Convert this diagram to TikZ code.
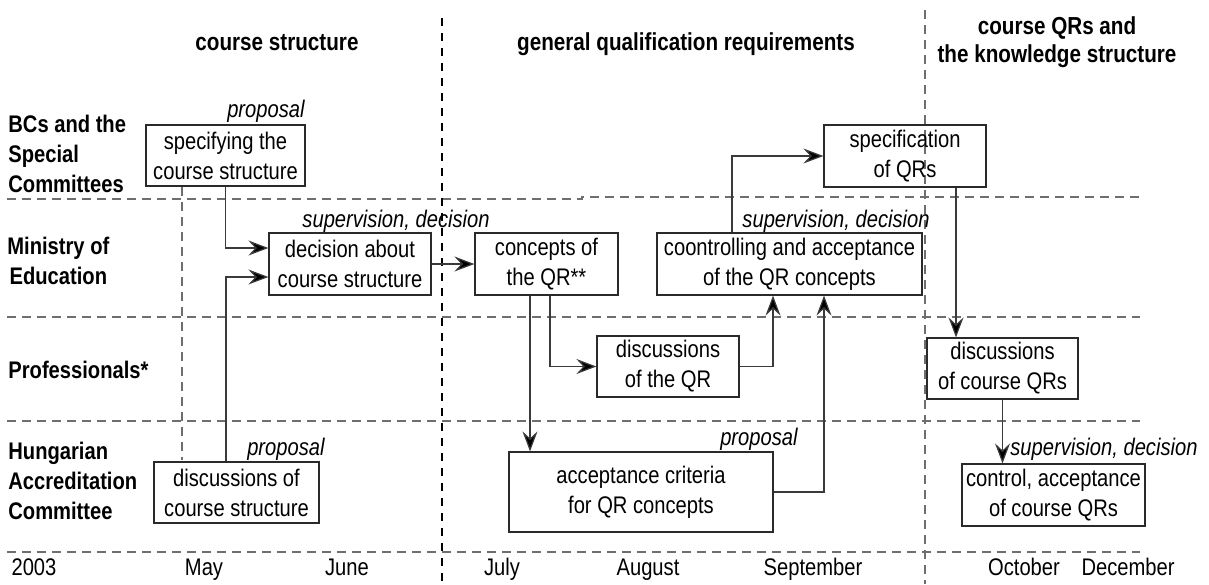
\documentclass[tikz,border=0pt]{standalone}
\usepackage{fontspec}
\setmainfont[FakeStretch=0.84]{Liberation Sans}
\usetikzlibrary{arrows.meta,calc}
\definecolor{lanegray}{HTML}{6E6E6E}
\definecolor{boxline}{HTML}{2A2A2A}
\definecolor{flowline}{HTML}{3A3A3A}
\begin{document}
\begin{tikzpicture}[x=0.5pt,y=-0.5pt,
  stepbox/.style={draw=boxline, line width=0.6pt, inner sep=0pt, align=center,
    font=\fontsize{12}{15}\selectfont},
  note/.style={inner sep=0pt, font=\fontsize{12}{15}\selectfont\itshape},
  head/.style={inner sep=0pt, align=center, font=\fontsize{12.3}{14}\selectfont\bfseries},
  lanename/.style={inner sep=0pt, align=left, font=\fontsize{12}{15}\selectfont\bfseries},
  month/.style={inner sep=0pt, font=\fontsize{12}{15}\selectfont},
  flow/.style={draw=flowline, line width=0.6pt,
    -{Stealth[length=10pt,width=7.5pt,inset=3.5pt,fill=black]}},
  divider/.style={draw=lanegray, line width=0.6pt, dash pattern=on 4.5pt off 3pt},
  phase/.style={draw=black, line width=0.6pt, dash pattern=on 4pt off 3.5pt},
]
\useasboundingbox (0,0) rectangle (1209,584);

% swim-lane separators
\draw[divider] (7,199) -- (582,199) -- (582,197) -- (1140,197);
\draw[divider] (7,317) -- (1140,317);
\draw[divider] (7,421) -- (1140,421);
\draw[divider] (7,552) -- (1140,552);

% phase separators
\draw[divider] (182,187) -- (182,460);
\draw[phase] (442,18) -- (442,584);
\draw[divider] (925,10) -- (925,584);

% phase headings
\node[head, anchor=base] (hcs) at (277,50) {course structure};
\node[head, anchor=base] (hgq) at (686,50) {general qualification requirements};
\node[head] (hks) at (1057,42.5) {course QRs and\\the knowledge structure};

% lane names
\node[lanename, anchor=west] (lbc) at (8,154) {BCs and the\\Special\\Committees};
\node[lanename, align=center, anchor=west] (lme) at (7,261) {Ministry of\\Education};
\node[lanename, anchor=base west] (lpr) at (8,378) {Professionals*};
\node[lanename, anchor=west] (lha) at (8,481) {Hungarian\\Accreditation\\Committee};

% time axis
\node[month, anchor=base] (m03) at (34,575) {2003};
\node[month, anchor=base] (mmay) at (204,575) {May};
\node[month, anchor=base] (mjun) at (347,575) {June};
\node[month, anchor=base] (mjul) at (502,575) {July};
\node[month, anchor=base] (maug) at (648,575) {August};
\node[month, anchor=base] (msep) at (813,575) {September};
\node[month, anchor=base] (moct) at (1024,575) {October};
\node[month, anchor=base] (mdec) at (1128,575) {December};

% activities
\node[stepbox, minimum width=79.5pt, minimum height=30.5pt] (spec) at (225.5,155.5)
  {specifying the\\course structure};
\node[stepbox, minimum width=81pt, minimum height=31pt] (dec) at (350,264)
  {decision about\\course structure};
\node[stepbox, minimum width=71.5pt, minimum height=31pt] (conc) at (546.5,264)
  {concepts of\\the QR**};
\node[stepbox, minimum width=132.5pt, minimum height=31pt] (ctrl) at (789.5,264)
  {coontrolling and acceptance\\of the QR concepts};
\node[stepbox, minimum width=81pt, minimum height=31pt] (sqr) at (905,156)
  {specification\\of QRs};
\node[stepbox, minimum width=71pt, minimum height=30.5pt] (dqr) at (668,366.5)
  {discussions\\of the QR};
\node[stepbox, minimum width=132pt, minimum height=40pt] (acc) at (641,492)
  {acceptance criteria\\for QR concepts};
\node[stepbox, minimum width=82.5pt, minimum height=30.5pt] (dcs) at (236.5,492.5)
  {discussions of\\course structure};
\node[stepbox, minimum width=75.5pt, minimum height=30.5pt] (dcq) at (1002.5,368.5)
  {discussions\\of course QRs};
\node[stepbox, minimum width=91.5pt, minimum height=31pt] (ccq) at (1053.5,495)
  {control, acceptance\\of course QRs};

% role annotations
\node[note, anchor=base east] (n1) at (305,117) {proposal};
\node[note, anchor=base east] (n2) at (490,227) {supervision, decision};
\node[note, anchor=base east] (n3) at (930,227) {supervision, decision};
\node[note, anchor=base east] (n4) at (798,445) {proposal};
\node[note, anchor=base east] (n5) at (325,455) {proposal};
\node[note, anchor=base west] (n6) at (1010,455) {supervision, decision};

% flows
\draw[flow] (spec.south) |- ([yshift=8pt]dec.west);
\draw[flow] ([xshift=-5.25pt]dcs.north) |- ([yshift=-6.5pt]dec.west);
\draw[flow] (dec.east) -- (conc.west);
\draw[flow] ([xshift=-8.25pt]conc.south) -- ([xshift=-8.25pt]conc.south |- acc.north);
\draw[flow] ([xshift=1.75pt]conc.south) |- (dqr.west);
\draw[flow] (dqr.east) -| ([xshift=-8.25pt]ctrl.south);
\draw[flow] (acc.east) -| ([xshift=17.25pt]ctrl.south);
\draw[flow] ([xshift=-28.75pt]ctrl.north) |- (sqr.west);
\draw[flow] ([xshift=25.5pt]sqr.south) -- ([xshift=25.5pt]sqr.south |- dcq.north);
\draw[flow] (dcq.south) -- (dcq.south |- ccq.north);
\end{tikzpicture}
\end{document}
